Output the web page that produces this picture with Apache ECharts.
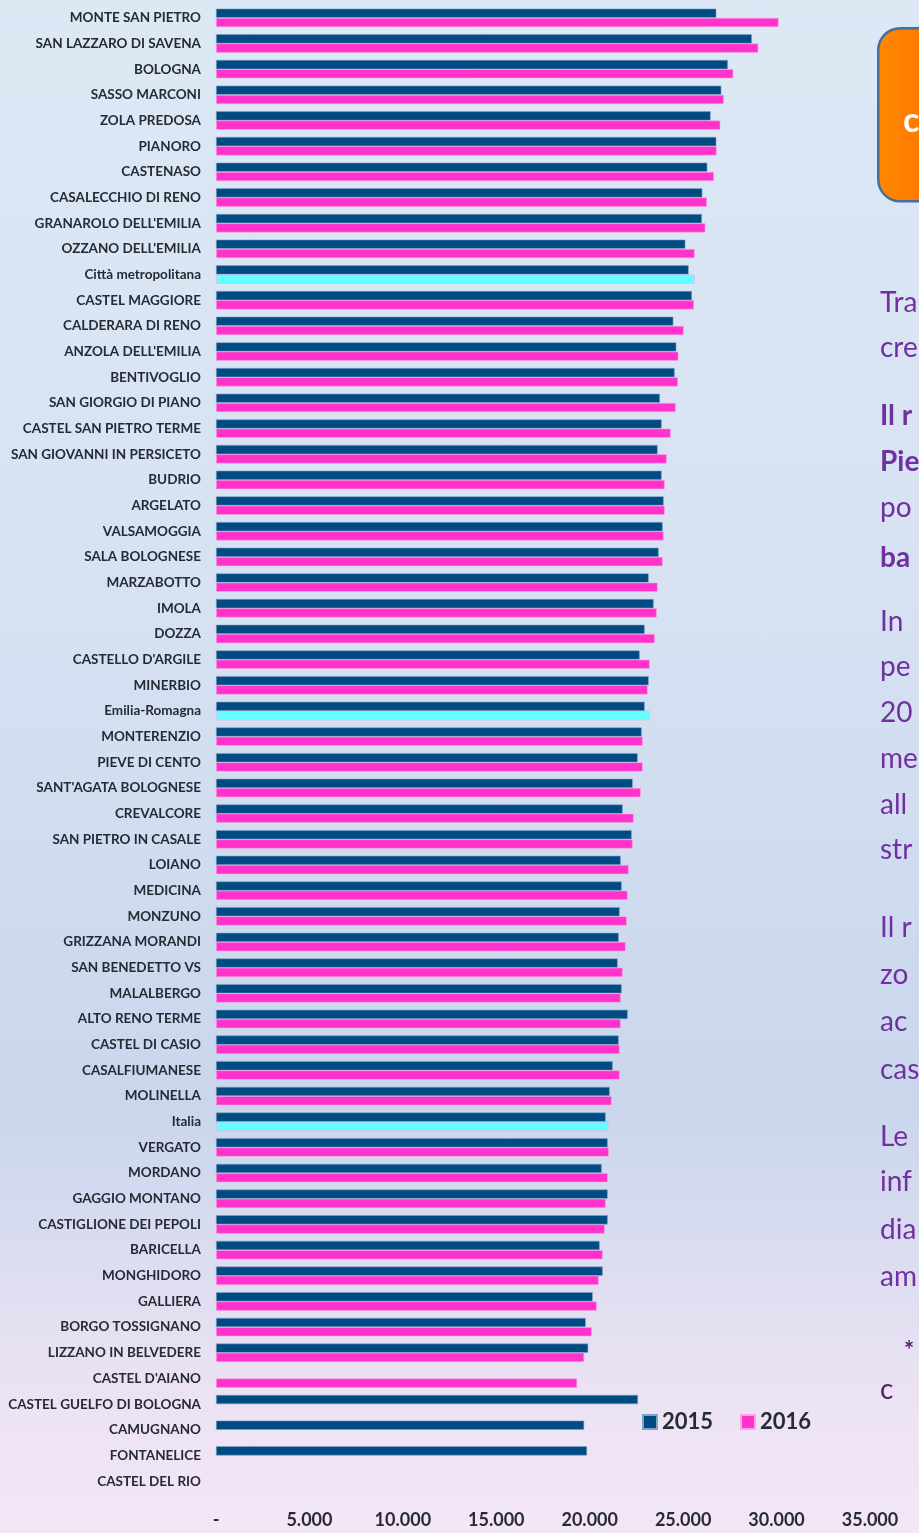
<!DOCTYPE html>
<html>
<head>
<meta charset="utf-8">
<script src="https://cdn.jsdelivr.net/npm/echarts@6/dist/echarts.min.js"></script>
<style>
html,body{margin:0;padding:0;}
#chart{width:919px;height:1533px;background:linear-gradient(180deg,#DDE8F5 0%,#D6E2F2 40%,#C9D6EC 72%,#EAE2F3 90%,#F4E6F6 100%);}
</style>
</head>
<body>
<div id="chart"></div>
<script>
const categories = ["MONTE SAN PIETRO","SAN LAZZARO DI SAVENA","BOLOGNA","SASSO MARCONI","ZOLA PREDOSA","PIANORO","CASTENASO","CASALECCHIO DI RENO","GRANAROLO DELL'EMILIA","OZZANO DELL'EMILIA","Città metropolitana","CASTEL MAGGIORE","CALDERARA DI RENO","ANZOLA DELL'EMILIA","BENTIVOGLIO","SAN GIORGIO DI PIANO","CASTEL SAN PIETRO TERME","SAN GIOVANNI IN PERSICETO","BUDRIO","ARGELATO","VALSAMOGGIA","SALA BOLOGNESE","MARZABOTTO","IMOLA","DOZZA","CASTELLO D'ARGILE","MINERBIO","Emilia-Romagna","MONTERENZIO","PIEVE DI CENTO","SANT'AGATA BOLOGNESE","CREVALCORE","SAN PIETRO IN CASALE","LOIANO","MEDICINA","MONZUNO","GRIZZANA MORANDI","SAN BENEDETTO VS","MALALBERGO","ALTO RENO TERME","CASTEL DI CASIO","CASALFIUMANESE","MOLINELLA","Italia","VERGATO","MORDANO","GAGGIO MONTANO","CASTIGLIONE DEI PEPOLI","BARICELLA","MONGHIDORO","GALLIERA","BORGO TOSSIGNANO","LIZZANO IN BELVEDERE","CASTEL D'AIANO","CASTEL GUELFO DI BOLOGNA","CAMUGNANO","FONTANELICE","CASTEL DEL RIO"];

const values2015 = [26775,28679,27396,27043,26471,26775,26294,26027,26005,25118,25294,25471,24476,24636,24545,23759,23850,23636,23850,23957,23904,23690,23155,23422,22941,22674,23155,22941,22781,22567,22299,21765,22246,21658,21711,21604,21551,21497,21711,22032,21551,21230,21070,20856,20963,20642,20963,20963,20535,20695,20160,19786,19920,null,22583,19701,19856,null];

const values2016 = [30107,29021,27684,27182,26989,26791,26647,26273,26187,25615,25615,25578,25027,24743,24722,24599,24332,24118,24011,24011,23957,23904,23636,23583,23476,23209,23102,23209,22834,22834,22727,22353,22299,22086,22032,21979,21925,21765,21658,21658,21604,21604,21176,21016,21016,20963,20856,20802,20695,20481,20374,20107,19701,19326,null,null,null,null];

const highlighted = ["Città metropolitana","Emilia-Romagna","Italia"];
const seriesNames = ["2015","2016"];

const sideLines = [
  {t:"Tra", y:306, b:false},
  {t:"cre", y:351, b:false},
  {t:"Il r", y:419, b:true},
  {t:"Pie", y:465, b:true},
  {t:"po", y:511, b:false},
  {t:"ba", y:561, b:true},
  {t:"In", y:625, b:false},
  {t:"pe", y:670, b:false},
  {t:"20", y:716, b:false},
  {t:"me", y:762, b:false},
  {t:"all", y:808, b:false},
  {t:"str", y:853, b:false},
  {t:"Il r", y:931, b:false},
  {t:"zo", y:978, b:false},
  {t:"ac", y:1025, b:false},
  {t:"cas", y:1073, b:false},
  {t:"Le", y:1140, b:false},
  {t:"inf", y:1185, b:false},
  {t:"dia", y:1233, b:false},
  {t:"am", y:1280, b:false}
];

const NAVY = '#004B82', PINK = '#FF33CC', CYAN = '#66FFFF';
const FONT = 'Lato, "Open Sans", sans-serif';

const chart = echarts.init(document.getElementById('chart'), null, {renderer:'canvas'});

const d2015 = values2015.map(v => ({value: v}));
const d2016 = values2016.map((v, i) => {
  const o = {value: v};
  if (highlighted.indexOf(categories[i]) >= 0) o.itemStyle = {color: CYAN};
  return o;
});

function fmt(v){
  if (v === 0) return '-';
  return String(v).replace(/\B(?=(\d{3})+(?!\d))/g, '.');
}

const graphics = [];
graphics.push({
  type:'rect', left:877, top:27, z:10,
  shape:{width:120, height:173, r:22},
  style:{
    fill:new echarts.graphic.LinearGradient(0,0,1,0,[{offset:0,color:'#FF8A00'},{offset:1,color:'#FF5A00'}]),
    stroke:'#41719C', lineWidth:2.5
  }
});
graphics.push({
  type:'text', left:903, top:104, z:11,
  style:{text:'c', fill:'#FFFFFF', font:'bold 34px ' + FONT}
});
sideLines.forEach(l => {
  graphics.push({
    type:'text', left:880, top:l.y - 17, z:11,
    style:{text:l.t, fill:'#7030A0', font:(l.b ? 'bold ' : '') + '28px ' + FONT}
  });
});
graphics.push({type:'text', left:904, top:1339, z:11, style:{text:'*', fill:'#5A1A6E', font:'bold 24px ' + FONT}});
graphics.push({type:'text', left:880, top:1376, z:11, style:{text:'c', fill:'#5A1A6E', font:'28px ' + FONT}});

chart.setOption({
  animation:false,
  backgroundColor:'transparent',
  grid:{left:216, right:49, top:5, bottom:39, containLabel:false},
  legend:{
    data:seriesNames, left:637, top:1406, icon:'rect', itemWidth:14, itemHeight:14, itemGap:27,
    textStyle:{fontFamily:FONT, fontWeight:'bold', fontSize:22, color:'#262B36'}
  },
  xAxis:{
    type:'value', min:0, max:35000, interval:5000,
    axisLine:{show:false}, axisTick:{show:false}, splitLine:{show:false},
    axisLabel:{formatter:fmt, margin:17, fontFamily:FONT, fontWeight:'bold', fontSize:18, color:'#262B36'}
  },
  yAxis:{
    type:'category', data:categories, inverse:true,
    axisLine:{show:false}, axisTick:{show:false}, splitLine:{show:false},
    axisLabel:{margin:15, fontFamily:FONT, fontWeight:'bold', fontSize:13.5, color:'#262A35', interval:0}
  },
  series:[
    {name:seriesNames[0], type:'bar', data:d2015, barGap:'0%', barCategoryGap:'28%',
     itemStyle:{color:NAVY, borderColor:'#7FA3C8', borderWidth:0.6}},
    {name:seriesNames[1], type:'bar', data:d2016, barGap:'0%', barCategoryGap:'28%',
     itemStyle:{color:PINK, borderColor:'#F7A6E3', borderWidth:0.6}}
  ],
  graphic:graphics
});
</script>
</body>
</html>
